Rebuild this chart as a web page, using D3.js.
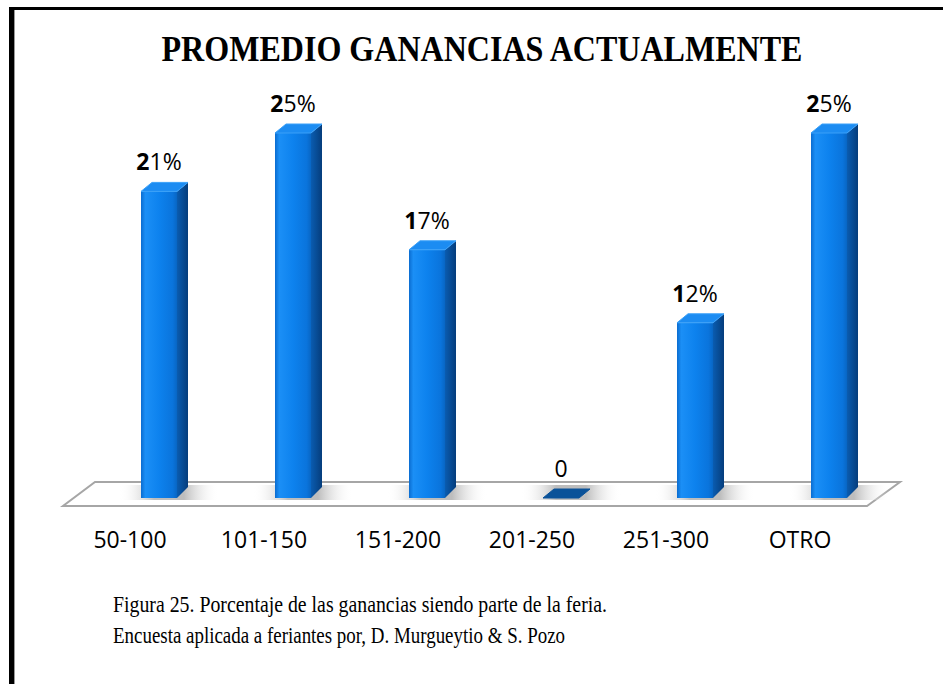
<!DOCTYPE html>
<html>
<head>
<meta charset="utf-8">
<script src="https://cdn.jsdelivr.net/npm/d3@7"></script>
<style>
  body { margin: 0; background: #fff; }
  svg { display: block; }
</style>
</head>
<body>
<div id="chart"></div>
<script>
const categories = ['50-100', '101-150', '151-200', '201-250', '251-300', 'OTRO'];
const values = [21, 25, 17, 0, 12, 25];
const valueLabels = ['21%', '25%', '17%', '0', '12%', '25%'];
const titleText = 'PROMEDIO GANANCIAS ACTUALMENTE';
const captionLines = [
    'Figura 25. Porcentaje de las ganancias siendo parte de la feria.',
    'Encuesta aplicada a feriantes por, D. Murgueytio & S. Pozo'
];
const captionWidths = [494, 452];

const width = 943;
const height = 684;
const floorBack = 482, floorFront = 506, baseY = 498;
const frontW = 36, depthX = 11, depthY = 9;

const svg = d3.select('#chart')
    .append('svg')
        .attr('width', width)
        .attr('height', height);

const defs = svg.append('defs');

const frontGrad = defs.append('linearGradient')
    .attr('id', 'frontGrad')
    .attr('x1', '0%').attr('x2', '100%').attr('y1', '0%').attr('y2', '0%');
[[0, '#0a6cd0'], [0.12, '#1b8ff6'], [0.5, '#0d82ee'], [0.88, '#0a74dc'], [1, '#0866c4']]
    .forEach(s => frontGrad.append('stop').attr('offset', s[0]).attr('stop-color', s[1]));

const sideGrad = defs.append('linearGradient')
    .attr('id', 'sideGrad')
    .attr('x1', '0%').attr('x2', '100%').attr('y1', '0%').attr('y2', '0%');
[[0, '#0a5cb0'], [1, '#053d7c']]
    .forEach(s => sideGrad.append('stop').attr('offset', s[0]).attr('stop-color', s[1]));

const shadowGrad = defs.append('linearGradient')
    .attr('id', 'shadowGrad')
    .attr('x1', '0%').attr('x2', '100%').attr('y1', '0%').attr('y2', '0%');
[[0, '#ffffff', 0], [0.35, '#bdbdbd', 1], [0.65, '#bdbdbd', 1], [1, '#ffffff', 0]]
    .forEach(s => shadowGrad.append('stop').attr('offset', s[0]).attr('stop-color', s[1]).attr('stop-opacity', s[2]));

// frame lines of the page
svg.append('rect').attr('x', 9).attr('y', 7).attr('width', width - 9).attr('height', 3).attr('fill', '#000');
svg.append('rect').attr('x', 9).attr('y', 7).attr('width', 5).attr('height', height - 7).attr('fill', '#000');
svg.append('rect').attr('x', 14).attr('y', 10).attr('width', 1).attr('height', height - 10).attr('fill', '#999');

svg.append('text')
    .attr('x', 482)
    .attr('y', 61)
    .attr('text-anchor', 'middle')
    .attr('font-family', 'Liberation Serif')
    .attr('font-weight', 'bold')
    .attr('font-size', 36)
    .attr('textLength', 641)
    .attr('lengthAdjust', 'spacingAndGlyphs')
    .text(titleText);

// scales
const xBack = d3.scaleBand().domain(categories).range([98, 902]);
const xFront = d3.scaleBand().domain(categories).range([63, 867]);
const y = d3.scaleLinear().domain([0, 25]).range([baseY, 133]);

// floor
svg.append('path')
    .attr('d', `M63,${floorFront} L867,${floorFront} L900,${floorBack} L95,${floorBack} Z`)
    .attr('fill', '#fff')
    .attr('stroke', '#a6a6a6')
    .attr('stroke-width', 2);

const g = svg.append('g');

const bar = g.selectAll('.bar')
    .data(categories.map((c, i) => ({c: c, v: values[i], lab: valueLabels[i]})))
    .enter()
    .append('g')
        .attr('class', 'bar');

const left = d => xBack(d.c) + xBack.bandwidth() / 2 - 24;

bar.append('rect')
    .attr('x', d => left(d) - 22)
    .attr('y', baseY - 13)
    .attr('width', 100)
    .attr('height', 15)
    .attr('fill', 'url(#shadowGrad)');

bar.filter(d => d.v > 0).append('rect')
    .attr('x', left)
    .attr('y', d => y(d.v))
    .attr('width', frontW)
    .attr('height', d => baseY - y(d.v))
    .attr('fill', 'url(#frontGrad)');

bar.filter(d => d.v > 0).append('path')
    .attr('d', d => {
        const x0 = left(d) + frontW, yt = y(d.v);
        return `M${x0},${yt} L${x0 + depthX},${yt - depthY} L${x0 + depthX},${baseY - depthY - 2} L${x0},${baseY} Z`;
    })
    .attr('fill', 'url(#sideGrad)');

bar.append('path')
    .attr('d', d => {
        const x0 = left(d), yt = y(d.v);
        return `M${x0},${yt} L${x0 + frontW},${yt} L${x0 + frontW + depthX},${yt - depthY} L${x0 + depthX},${yt - depthY} Z`;
    })
    .attr('fill', d => d.v > 0 ? '#1c8cf2' : '#0a5299')
    .attr('stroke', d => d.v > 0 ? '#3aa0f8' : '#0a5299')
    .attr('stroke-width', 1)
    .attr('stroke-linejoin', 'round');

const vt = bar.append('text')
    .attr('x', d => left(d) + frontW / 2)
    .attr('y', d => y(d.v) - 21)
    .attr('text-anchor', 'middle')
    .attr('font-family', 'Open Sans')
    .attr('font-size', 23)
    .attr('fill', '#000');
vt.append('tspan')
    .attr('font-weight', d => d.v > 0 ? 'bold' : 'normal')
    .text(d => d.lab.charAt(0));
vt.append('tspan')
    .text(d => d.lab.slice(1));

svg.selectAll('.cat')
    .data(categories)
    .enter()
    .append('text')
        .attr('class', 'cat')
        .attr('x', d => xFront(d) + xFront.bandwidth() / 2)
        .attr('y', 548)
        .attr('text-anchor', 'middle')
        .attr('font-family', 'Open Sans')
        .attr('font-size', 23)
        .attr('fill', '#000')
        .text(d => d);

svg.selectAll('.cap')
    .data(captionLines)
    .enter()
    .append('text')
        .attr('class', 'cap')
        .attr('x', 113)
        .attr('y', (d, i) => 612 + i * 31)
        .attr('font-family', 'Liberation Serif')
        .attr('font-size', 23)
        .attr('textLength', (d, i) => captionWidths[i])
        .attr('lengthAdjust', 'spacingAndGlyphs')
        .attr('fill', '#000')
        .text(d => d);
</script>
</body>
</html>
